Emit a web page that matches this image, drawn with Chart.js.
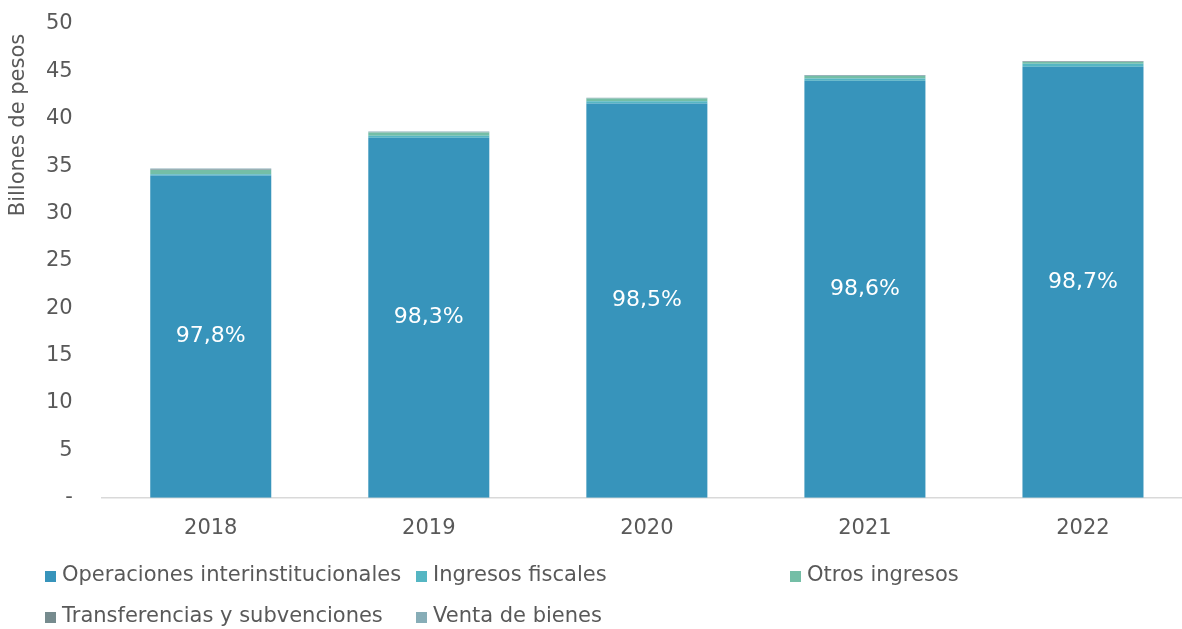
<!DOCTYPE html>
<html>
<head>
<meta charset="utf-8">
<script src="https://cdn.jsdelivr.net/npm/chart.js@4.4.0/dist/chart.umd.min.js"></script>
<style>
  html, body { margin: 0; padding: 0; background: #fff; overflow: hidden; }
  #wrap { width: 1192px; height: 629px; }
</style>
</head>
<body>
<div id="wrap"><canvas id="chart" width="1192" height="629"></canvas></div>
<script>
// Years on the x axis
const years = ["2018", "2019", "2020", "2021", "2022"]

// Series values (billones de pesos)
const operaciones = [34.0, 38.0, 41.6, 44.0, 45.5]
const ingresosFiscales = [0.15, 0.2, 0.25, 0.25, 0.3]
const otrosIngresos = [0.45, 0.35, 0.28, 0.27, 0.2]
const transferencias = [0.05, 0.03, 0.03, 0.03, 0.03]
const ventaBienes = [0.1, 0.08, 0.07, 0.07, 0.07]

// y axis ticks
const yTicks = [0, 5, 10, 15, 20, 25, 30, 35, 40, 45, 50]

const textColor = "#595959"
const fontFamily = "'DejaVu Sans', Verdana, sans-serif"

// White share label in the middle of the main bar
const shareLabels = {
  id: "shareLabels",
  afterDatasetsDraw(chart) {
    const ctx = chart.ctx
    const meta = chart.getDatasetMeta(0)
    const all = chart.data.datasets
    ctx.save()
    ctx.fillStyle = "#ffffff"
    ctx.font = "22px " + fontFamily
    ctx.textAlign = "center"
    ctx.textBaseline = "middle"
    meta.data.forEach((bar, i) => {
      let total = 0
      all.forEach((ds) => { total += ds.data[i] })
      const pct = (all[0].data[i] / total * 100).toFixed(1).replace(".", ",") + "%"
      ctx.fillText(pct, bar.x, (bar.y + bar.base) / 2)
    })
    ctx.restore()
  }
}

// Legend in a fixed grid + y axis title near the top, like the original
const gridLegend = {
  id: "gridLegend",
  afterDraw(chart) {
    const ctx = chart.ctx
    const cols = [45, 416, 790]
    const rows = [576, 617]
    ctx.save()
    ctx.font = "21px " + fontFamily
    ctx.textBaseline = "middle"
    chart.data.datasets.forEach((ds, i) => {
      const x = cols[i % 3]
      const y = rows[Math.floor(i / 3)]
      ctx.fillStyle = ds.backgroundColor
      ctx.fillRect(x, y - 5, 11, 11)
      ctx.fillStyle = textColor
      ctx.fillText(ds.label, x + 17, y)
    })
    // axis title
    ctx.translate(19, 125)
    ctx.rotate(-Math.PI / 2)
    ctx.textAlign = "center"
    ctx.font = "21px " + fontFamily
    ctx.fillText("Billones de pesos", 0, 0)
    ctx.restore()
  }
}

const ctx = document.getElementById("chart").getContext("2d")
new Chart(ctx, {
  type: "bar",
  data: {
    labels: years,
    datasets: [
      { label: "Operaciones interinstitucionales", data: operaciones, backgroundColor: "#3794bb" },
      { label: "Ingresos fiscales", data: ingresosFiscales, backgroundColor: "#55b6c3" },
      { label: "Otros ingresos", data: otrosIngresos, backgroundColor: "#74bea6" },
      { label: "Transferencias y subvenciones", data: transferencias, backgroundColor: "#768b8e" },
      { label: "Venta de bienes", data: ventaBienes, backgroundColor: "#87adb7" },
    ],
  },
  options: {
    responsive: false,
    animation: false,
    layout: { padding: { top: 24, right: 0, bottom: 78, left: 17 } },
    datasets: { bar: { categoryPercentage: 1, barPercentage: 0.555 } },
    plugins: {
      legend: { display: false },
      tooltip: { enabled: false },
    },
    scales: {
      x: {
        stacked: true,
        grid: { display: false },
        border: { color: "#d9d9d9", width: 1.5 },
        ticks: { color: textColor, font: { family: fontFamily, size: 21 }, padding: 10 },
      },
      y: {
        stacked: true,
        min: 0,
        max: 50,
        afterBuildTicks: (scale) => { scale.ticks = yTicks.map((v) => ({ value: v })) },
        afterFit: (scale) => { scale.paddingTop = 0; scale.paddingBottom = 0 },
        grid: { display: false, drawTicks: false },
        border: { display: false },
        ticks: {
          color: textColor,
          font: { family: fontFamily, size: 21 },
          padding: 29,
          callback: (v) => (v === 0 ? "-" : v),
        },
      },
    },
  },
  plugins: [shareLabels, gridLegend],
})
</script>
</body>
</html>
